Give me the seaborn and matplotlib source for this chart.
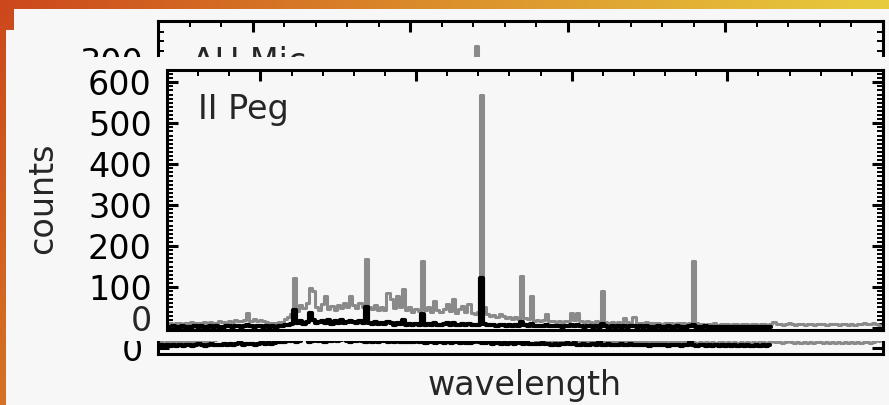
import numpy as np
import pandas as pd
import seaborn as sns
import matplotlib.pyplot as plt
from matplotlib.patches import Rectangle
from matplotlib.ticker import MultipleLocator, NullFormatter, FuncFormatter
from matplotlib.transforms import offset_copy

sns.set_style("ticks")
plt.rcParams['font.family'] = ['DejaVu Sans']

W, H = 889, 405

# II Peg spectrum, 0.1 A bins starting at 2.0 A
peg_wave = np.round(np.arange(2.0, 25.0, 0.1), 1)
peg_grey = [
    10, 12, 9, 11, 13, 10, 12, 11, 14, 12,
    13, 11, 14, 12, 15, 13, 12, 16, 14, 13,
    17, 15, 19, 16, 18, 20, 37, 18, 21, 17,
    19, 16, 14, 12, 13, 11, 15, 14, 22, 26,
    34, 122, 42, 55, 48, 60, 97, 90, 52, 45,
    58, 78, 47, 53, 44, 56, 49, 61, 52, 78,
    55, 48, 62, 50, 168, 52, 46, 57, 44, 50,
    43, 85, 70, 48, 78, 52, 95, 45, 51, 40,
    47, 42, 163, 44, 50, 38, 65, 43, 39, 46,
    58, 41, 70, 37, 46, 54, 40, 58, 36, 33,
    38, 570, 50, 34, 29, 32, 27, 35, 28, 25,
    27, 23, 26, 22, 127, 24, 21, 78, 18, 20,
    17, 19, 35, 16, 18, 15, 17, 14, 16, 18,
    37, 20, 37, 16, 14, 17, 15, 13, 16, 14,
    90, 15, 13, 14, 12, 15, 13, 25, 14, 12,
    27, 13, 11, 12, 14, 12, 11, 13, 12, 10,
    12, 11, 13, 10, 12, 11, 12, 10, 12, 163,
    11, 9, 10, 8, 10, 9, 11, 8, 9, 10,
    9, 8, 10, 9, 8, 10, 9, 8, 9, 10,
    8, 9, 10, 8, 9, 15, 10, 9, 8, 9,
    12, 9, 8, 10, 9, 8, 9, 10, 8, 9,
    9, 10, 8, 9, 10, 9, 8, 10, 9, 8,
    9, 8, 10, 9, 11, 9, 10, 12, 9, 8,
]
peg_black = [
    3, 2, 4, 3, 2, 4, 3, 2, 3, 4,
    3, 4, 2, 3, 5, 3, 4, 3, 2, 4,
    4, 3, 5, 4, 3, 5, 8, 4, 3, 5,
    4, 3, 5, 3, 4, 3, 5, 4, 6, 7,
    10, 43, 12, 18, 9, 14, 37, 20, 11, 15,
    17, 12, 19, 10, 16, 13, 20, 12, 15, 18,
    14, 11, 16, 12, 50, 13, 9, 15, 10, 12,
    9, 14, 11, 8, 12, 9, 20, 8, 10, 7,
    9, 7, 35, 8, 10, 6, 12, 8, 7, 9,
    11, 7, 13, 6, 8, 10, 7, 9, 6, 7,
    8, 122, 10, 7, 6, 8, 5, 7, 6, 5,
    6, 5, 7, 5, 15, 6, 5, 9, 4, 5,
    4, 5, 7, 4, 5, 4, 5, 3, 4, 5,
    7, 4, 6, 4, 3, 5, 4, 3, 4, 3,
    9, 4, 3, 4, 3, 4, 3, 5, 3, 4,
    5, 3, 4, 3, 4, 3, 2, 3, 4, 3,
    3, 4, 2, 3, 4, 3, 2, 3, 4, 8,
    3, 2, 3, 4, 2, 3, 2, 3, 2, 3,
    2, 3, 2, 3, 2, 3, 2, 3, 2, 2,
    3, 2, 3, 2, 3,
]

# AU Mic spectrum (mostly hidden behind the front panel), same bins
mic_wave = peg_wave
mic_grey = [
    6, 7, 5, 8, 6, 7, 9, 6, 8, 7,
    8, 7, 9, 8, 10, 8, 9, 11, 9, 10,
    10, 12, 11, 13, 10, 12, 14, 11, 13, 12,
    13, 11, 14, 12, 15, 13, 16, 14, 18, 20,
    22, 55, 24, 28, 21, 26, 45, 40, 23, 25,
    27, 35, 22, 26, 24, 28, 23, 30, 25, 38,
    26, 24, 29, 25, 80, 27, 22, 26, 23, 25,
    22, 40, 33, 24, 36, 25, 45, 22, 24, 20,
    23, 21, 75, 22, 24, 19, 30, 21, 20, 22,
    25, 20, 32, 19, 22, 26, 19, 27, 18, 17,
    19, 315, 24, 17, 15, 16, 14, 18, 14, 13,
    14, 12, 13, 11, 70, 12, 11, 40, 10, 11,
    9, 10, 20, 9, 10, 8, 9, 8, 9, 10,
    45, 11, 40, 9, 8, 9, 8, 7, 9, 8,
    55, 8, 7, 8, 7, 8, 7, 14, 8, 7,
    15, 7, 6, 7, 8, 7, 6, 7, 7, 6,
    7, 6, 7, 6, 7, 6, 7, 6, 7, 120,
    6, 5, 6, 5, 6, 5, 6, 5, 6, 6,
    5, 6, 5, 6, 5, 6, 5, 6, 5, 6,
    5, 6, 6, 5, 6, 14, 7, 6, 5, 6,
    12, 6, 5, 6, 5, 6, 5, 6, 5, 6,
    6, 5, 6, 5, 6, 5, 6, 5, 6, 5,
    6, 5, 6, 5, 7, 6, 5, 7, 9, 8,
]
mic_black = [
    2, 3, 2, 3, 2, 3, 2, 3, 2, 3,
    3, 2, 3, 4, 3, 2, 3, 4, 3, 3,
    3, 4, 3, 4, 3, 4, 5, 3, 4, 4,
    4, 3, 4, 5, 4, 5, 4, 5, 6, 6,
    7, 20, 8, 9, 7, 8, 16, 10, 7, 8,
    9, 8, 10, 7, 9, 8, 10, 8, 9, 10,
    8, 7, 9, 8, 25, 8, 7, 9, 7, 8,
    7, 9, 8, 6, 8, 7, 12, 6, 7, 6,
    7, 6, 20, 6, 7, 5, 8, 6, 5, 6,
    7, 5, 8, 5, 6, 7, 5, 6, 5, 5,
    6, 60, 7, 5, 5, 6, 4, 5, 5, 4,
    5, 4, 5, 4, 10, 5, 4, 6, 4, 4,
    4, 4, 5, 4, 4, 3, 4, 3, 4, 4,
    5, 4, 5, 3, 3, 4, 3, 3, 4, 3,
    6, 3, 3, 4, 3, 3, 3, 4, 3, 3,
    4, 3, 3, 3, 3, 3, 2, 3, 3, 3,
    3, 3, 2, 3, 3, 3, 2, 3, 3, 6,
    3, 2, 3, 3, 2, 3, 2, 3, 2, 3,
    2, 3, 2, 3, 2, 3, 2, 3, 2, 2,
    3, 2, 3, 2, 3,
]

peg_g = pd.DataFrame({'wavelength': peg_wave, 'counts': peg_grey})
peg_b = pd.DataFrame({'wavelength': peg_wave[:len(peg_black)], 'counts': peg_black})
mic_g = pd.DataFrame({'wavelength': mic_wave, 'counts': mic_grey})
mic_b = pd.DataFrame({'wavelength': mic_wave[:len(mic_black)], 'counts': mic_black})

PAGE = '#f7f7f7'
GREY = '#8a8a8a'
FS = 24


def px_rect(l, t, r, b):
    return [l / W, 1 - b / H, (r - l) / W, (b - t) / H]


fig = plt.figure(figsize=(W / 100, H / 100), dpi=100)

# slide background: orange -> yellow gradient with white pages on top
bg = fig.add_axes([0, 0, 1, 1], zorder=0)
xx, yy = np.meshgrid(np.linspace(0, 1, 300), np.linspace(0, 1, 140))
t = np.clip(xx + 0.3 * yy, 0, 1)[..., None]
c0 = np.array([0.80, 0.28, 0.11])
c1 = np.array([0.86, 0.56, 0.17])
c2 = np.array([0.91, 0.80, 0.24])
grad = np.where(t < 0.5, c0 + (c1 - c0) * t / 0.5, c1 + (c2 - c1) * (t - 0.5) / 0.5)
bg.imshow(grad, extent=[0, W, H, 0], aspect='auto')
bg.add_patch(Rectangle((14, 9), W - 14, H - 9, color=PAGE, lw=0))
bg.add_patch(Rectangle((6, 30), W - 6, H - 30, color=PAGE, lw=0))
bg.set_xlim(0, W)
bg.set_ylim(H, 0)
bg.axis('off')


def style_axes(ax, ylim):
    ax.set_xlim(2, 25)
    ax.set_ylim(*ylim)
    ax.set_facecolor('none')
    for s in ax.spines.values():
        s.set_linewidth(2.2)
        s.set_color('black')
    ax.xaxis.set_major_locator(MultipleLocator(5))
    ax.xaxis.set_minor_locator(MultipleLocator(1))
    ax.yaxis.set_major_locator(MultipleLocator(100))
    ax.yaxis.set_minor_locator(MultipleLocator(10))
    ax.tick_params(which='both', direction='in', top=True, bottom=False,
                   left=True, right=True, labelbottom=False, labeltop=False,
                   labelright=False, labelleft=True, colors='black')
    ax.tick_params(which='major', length=8, width=2.2, labelsize=FS, pad=11)
    ax.tick_params(which='minor', length=4, width=1.4)
    ax.xaxis.set_major_formatter(NullFormatter())
    ax.set_xlabel('')
    ax.set_ylabel('')


def draw_spectrum(ax, grey, black):
    sns.lineplot(data=grey, x='wavelength', y='counts', ax=ax, color=GREY,
                 lw=2.2, drawstyle='steps-mid', estimator=None, legend=False)
    sns.lineplot(data=black, x='wavelength', y='counts', ax=ax, color='black',
                 lw=3.0, drawstyle='steps-mid', estimator=None, legend=False)


# back panel: AU Mic
ax_mic = fig.add_axes(px_rect(158, 21, 883, 354), zorder=1)
draw_spectrum(ax_mic, mic_g, mic_b)
style_axes(ax_mic, (-6, 341))
ax_mic.yaxis.set_major_formatter(
    FuncFormatter(lambda v, p: f'{v:.0f}' if round(v) in (0, 300) else ''))
ax_mic.text(0.047, 0.925, 'AU Mic', transform=ax_mic.transAxes, fontsize=FS,
            va='top', ha='left')

# white sheet covering the back panel
cover = fig.add_axes(px_rect(6, 57, W, 341), zorder=2)
cover.set_facecolor(PAGE)
cover.set_xticks([])
cover.set_yticks([])
for s in cover.spines.values():
    s.set_visible(False)

# front panel: II Peg
ax_peg = fig.add_axes(px_rect(167, 70, 883, 330), zorder=3)
draw_spectrum(ax_peg, peg_g, peg_b)
style_axes(ax_peg, (-5, 630))
# the zero label sits a little above its tick, as in the original
ax_peg.yaxis.set_major_formatter(
    FuncFormatter(lambda v, p: '' if round(v) == 0 else f'{v:.0f}'))
ax_peg.text(0, 0, '0', fontsize=FS, ha='right', va='center_baseline',
            transform=offset_copy(ax_peg.get_yaxis_transform(), fig,
                                  x=-11, y=7, units='points'))
ax_peg.text(0.043, 0.91, 'II Peg', transform=ax_peg.transAxes, fontsize=FS,
            va='top', ha='left')

fig.text(43 / W, 1 - 198 / H, 'counts', rotation=90, fontsize=FS,
         ha='center', va='center', zorder=4)
fig.text(525 / W, 1 - 385 / H, 'wavelength', fontsize=FS,
         ha='center', va='center', zorder=4)

fig.savefig('out.png', dpi=100, facecolor=PAGE)
